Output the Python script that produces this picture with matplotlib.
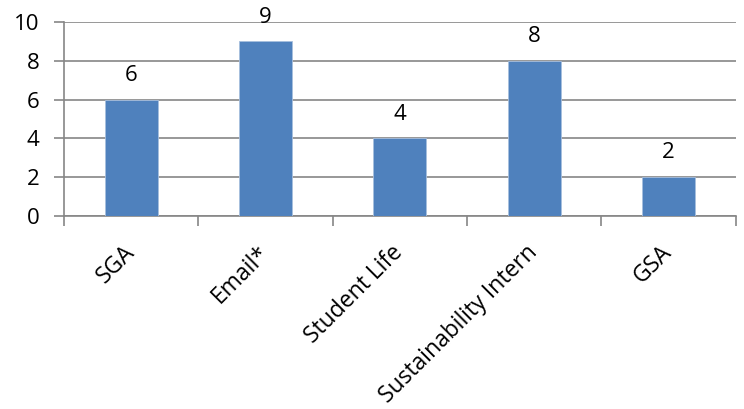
import matplotlib.pyplot as plt
import numpy as np

categories = ["SGA", "Email*", "Student Life", "Sustainability Intern", "GSA"]
values = [6, 9, 4, 8, 2]

plt.rcParams['font.family'] = ['Open Sans', 'DejaVu Sans']

fig = plt.figure(figsize=(7.44, 4.09), dpi=100)
ax = fig.add_axes([0.086, 0.4719, 0.9026, 0.4743])

x = np.arange(len(categories))
bars = ax.bar(x, values, width=0.395, color='#4F81BD', edgecolor='#A7BFDE', linewidth=0.6, zorder=3)

for xi, v in zip(x, values):
    ax.annotate(str(v), (xi, v), xytext=(0, 10), textcoords='offset points',
                ha='center', va='bottom', fontsize=16)

ax.set_xlim(-0.5, len(categories) - 0.5)
ax.set_ylim(0, 10)
ax.set_yticks(range(0, 11, 2))
ax.yaxis.grid(True, color='#868686', linewidth=1.2, zorder=0)
ax.tick_params(axis='y', length=7, width=1.2, color='#868686', labelsize=16, pad=10.5)

# category boundary ticks
ax.set_xticks(np.arange(-0.5, len(categories), 1.0))
ax.set_xticklabels([])
ax.set_xticks(x, minor=True)
ax.set_xticklabels(categories, minor=True, rotation=45, ha='right', va='center',
                   rotation_mode='anchor', fontsize=16.5)
ax.tick_params(axis='x', which='minor', length=0, pad=24)
ax.tick_params(axis='x', which='major', length=7, width=1.2, color='#868686', direction='out')

for s in ['top', 'right']:
    ax.spines[s].set_visible(False)
for s in ['left', 'bottom']:
    ax.spines[s].set_color('#868686')
    ax.spines[s].set_linewidth(1.2)

fig.savefig("out.png", dpi=100)
